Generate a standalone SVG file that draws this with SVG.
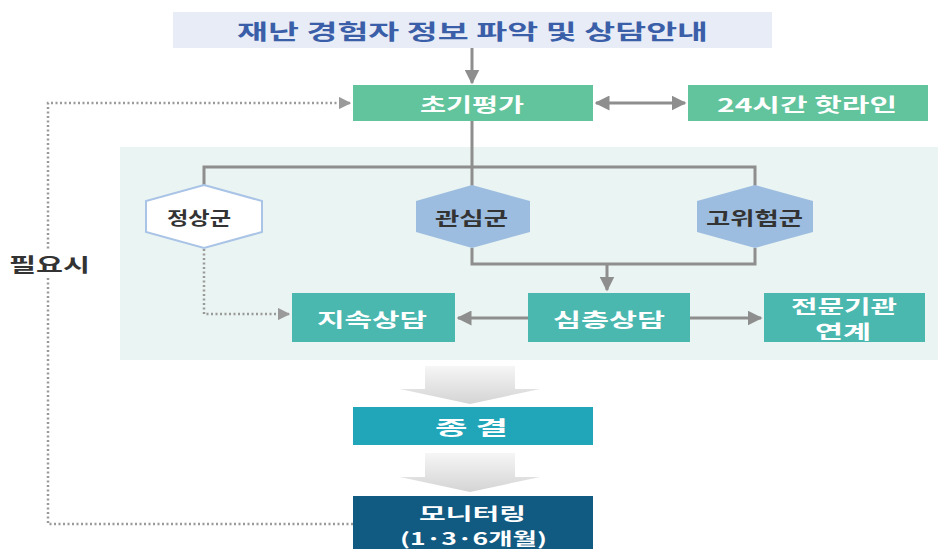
<svg xmlns="http://www.w3.org/2000/svg" width="938" height="549" viewBox="0 0 938 549">
<defs>
<style>
text{font-family:"Noto Sans CJK KR","Noto Sans",sans-serif;font-weight:bold;text-anchor:middle;dominant-baseline:central}
.w{fill:#ffffff;font-size:19px}
.d{fill:#333333;font-size:18px}
.m{fill:#ffffff;font-size:17px}
.ln{fill:none;stroke:#8e8e8e;stroke-width:3}
.dot{fill:none;stroke:#9a9a9a;stroke-width:2.5;stroke-dasharray:2 2.5}
</style>
<marker id="ah" viewBox="0 0 10 10" refX="9" refY="5" markerWidth="5" markerHeight="5" orient="auto-start-reverse" markerUnits="strokeWidth">
<path d="M0,0 L10,5 L0,10 z" fill="#8e8e8e"/>
</marker>
<marker id="ahd" viewBox="0 0 10 10" refX="9" refY="5" markerWidth="5" markerHeight="5" orient="auto" markerUnits="strokeWidth">
<path d="M0,0 L10,5 L0,10 z" fill="#9a9a9a"/>
</marker>
<linearGradient id="gg" x1="0" y1="0" x2="0" y2="1">
<stop offset="0" stop-color="#f6f6f6"/>
<stop offset="1" stop-color="#d4d4d4"/>
</linearGradient>
</defs>
<rect width="938" height="549" fill="#ffffff"/>
<rect id="panel" x="120" y="147" width="818" height="213" fill="#eaf4f2"/>

<g id="connectors">
<line class="ln" x1="472" y1="48" x2="472" y2="83" marker-end="url(#ah)"/>
<line class="ln" x1="596" y1="103" x2="685" y2="103" marker-start="url(#ah)" marker-end="url(#ah)"/>
<path class="ln" d="M472,121 V167 M204,185 V167 H755 V186 M472,167 V186"/>
<path class="ln" d="M472,248 V264 H755 V248"/>
<line class="ln" x1="607" y1="264" x2="607" y2="290" marker-end="url(#ah)"/>
<line class="ln" x1="528" y1="318" x2="458" y2="318" marker-end="url(#ah)"/>
<line class="ln" x1="690" y1="318" x2="761" y2="318" marker-end="url(#ah)"/>
<path class="dot" d="M204,249 V314 H289" marker-end="url(#ahd)"/>
<path class="dot" d="M353,524 H48 V103 H350" marker-end="url(#ahd)"/>
<path d="M425,366 H515 V389 H540 L470,404 L400,389 H425 Z" fill="url(#gg)"/>
<path d="M425,453 H515 V477 H540 L470,492 L400,477 H425 Z" fill="url(#gg)"/>
</g>

<g id="label-need">
<rect x="8" y="250" width="84" height="28" fill="#ffffff"/>
<text class="d" x="49.5" y="263" textLength="81" lengthAdjust="spacingAndGlyphs" style="font-size:19px">필요시</text>
</g>

<g id="title">
<rect x="173" y="12" width="599" height="36" fill="#e8ecf7"/>
<text x="472.5" y="30" textLength="471" lengthAdjust="spacingAndGlyphs" style="fill:#3a5fa8;font-size:21px">재난 경험자 정보 파악 및 상담안내</text>
</g>
<g id="initial">
<rect x="353" y="85" width="240" height="36" fill="#62c49c"/>
<text class="w" x="472" y="103" textLength="104" lengthAdjust="spacingAndGlyphs">초기평가</text>
</g>
<g id="hotline">
<rect x="688" y="85" width="240" height="36" fill="#62c49c"/>
<text class="w" x="807" y="103" textLength="180" lengthAdjust="spacingAndGlyphs">24시간 핫라인</text>
</g>
<g id="normal">
<polygon points="204,185 262,201 262,232 204,248 146,232 146,201" fill="#ffffff" stroke="#a9c4e6" stroke-width="2"/>
<text class="d" x="199" y="217" textLength="64" lengthAdjust="spacingAndGlyphs">정상군</text>
</g>
<g id="interest">
<polygon points="472,185 530,201 530,232 472,248 416,232 416,201" fill="#9dbde0"/>
<text class="d" x="471.5" y="217" textLength="73" lengthAdjust="spacingAndGlyphs">관심군</text>
</g>
<g id="highrisk">
<polygon points="755,185 813,201 813,232 755,248 697,232 697,201" fill="#9dbde0"/>
<text class="d" x="754.5" y="217" textLength="97" lengthAdjust="spacingAndGlyphs">고위험군</text>
</g>
<g id="continuous">
<rect x="292" y="293" width="163" height="49" fill="#4bb8b0"/>
<text class="w" x="372" y="318" textLength="110" lengthAdjust="spacingAndGlyphs">지속상담</text>
</g>
<g id="deep">
<rect x="528" y="293" width="162" height="49" fill="#4bb8b0"/>
<text class="w" x="609" y="318" textLength="112" lengthAdjust="spacingAndGlyphs">심층상담</text>
</g>
<g id="specialist">
<rect x="764" y="293" width="161" height="49" fill="#4bb8b0"/>
<text class="w" x="844" y="305" textLength="106" lengthAdjust="spacingAndGlyphs">전문기관</text>
<text class="w" x="843" y="330" textLength="56" lengthAdjust="spacingAndGlyphs">연계</text>
</g>
<g id="closing">
<rect x="353" y="407" width="240" height="38" fill="#21a5b8"/>
<text class="w" x="471.5" y="426" textLength="73" lengthAdjust="spacingAndGlyphs">종 결</text>
</g>
<g id="monitoring">
<rect x="353" y="496" width="240" height="53" fill="#115a82"/>
<text class="m" x="472.5" y="512" textLength="107" lengthAdjust="spacingAndGlyphs">모니터링</text>
<text class="m" x="473.5" y="537" textLength="147" lengthAdjust="spacingAndGlyphs">(1·3·6개월)</text>
</g>
</svg>
